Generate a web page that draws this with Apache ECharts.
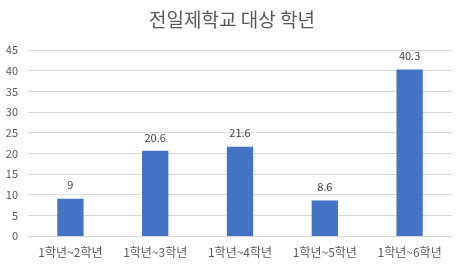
<!DOCTYPE html>
<html><head><meta charset="utf-8">
<script src="https://cdn.jsdelivr.net/npm/echarts@6/dist/echarts.min.js"></script>
<style>html,body{margin:0;padding:0;background:#fff}#c{width:464px;height:274px}</style>
</head><body><div id="c"></div>
<script>
const categories = ['1학년~2학년','1학년~3학년','1학년~4학년','1학년~5학년','1학년~6학년'];
const values = [9, 20.6, 21.6, 8.6, 40.3];
const titleText = '전일제학교 대상 학년';
const chart = echarts.init(document.getElementById('c'));
const font = '"Noto Sans CJK KR", "Noto Sans", sans-serif';
chart.setOption({
  animation: false,
  title: { text: titleText, left: 'center', top: 5,
    textStyle: { fontFamily: font, fontSize: 19, fontWeight: 'normal', color: '#595959' } },
  grid: { left: 28, right: 12, top: 50, bottom: 38 },
  xAxis: { type: 'category', data: categories,
    axisLine: { lineStyle: { color: '#d9d9d9' } }, axisTick: { show: false },
    axisLabel: { fontFamily: font, fontSize: 12, color: '#595959', margin: 10 } },
  yAxis: { type: 'value', min: 0, max: 45, interval: 5,
    axisLine: { show: false }, axisTick: { show: false },
    splitLine: { lineStyle: { color: '#d9d9d9' } },
    axisLabel: { fontFamily: font, fontSize: 11, color: '#595959', margin: 10 } },
  series: [{ type: 'bar', data: values, barWidth: '31%',
    itemStyle: { color: '#4472c4' },
    label: { show: true, position: 'top', distance: 8, fontFamily: font, fontSize: 11, color: '#404040' } }]
});
</script></body></html>
